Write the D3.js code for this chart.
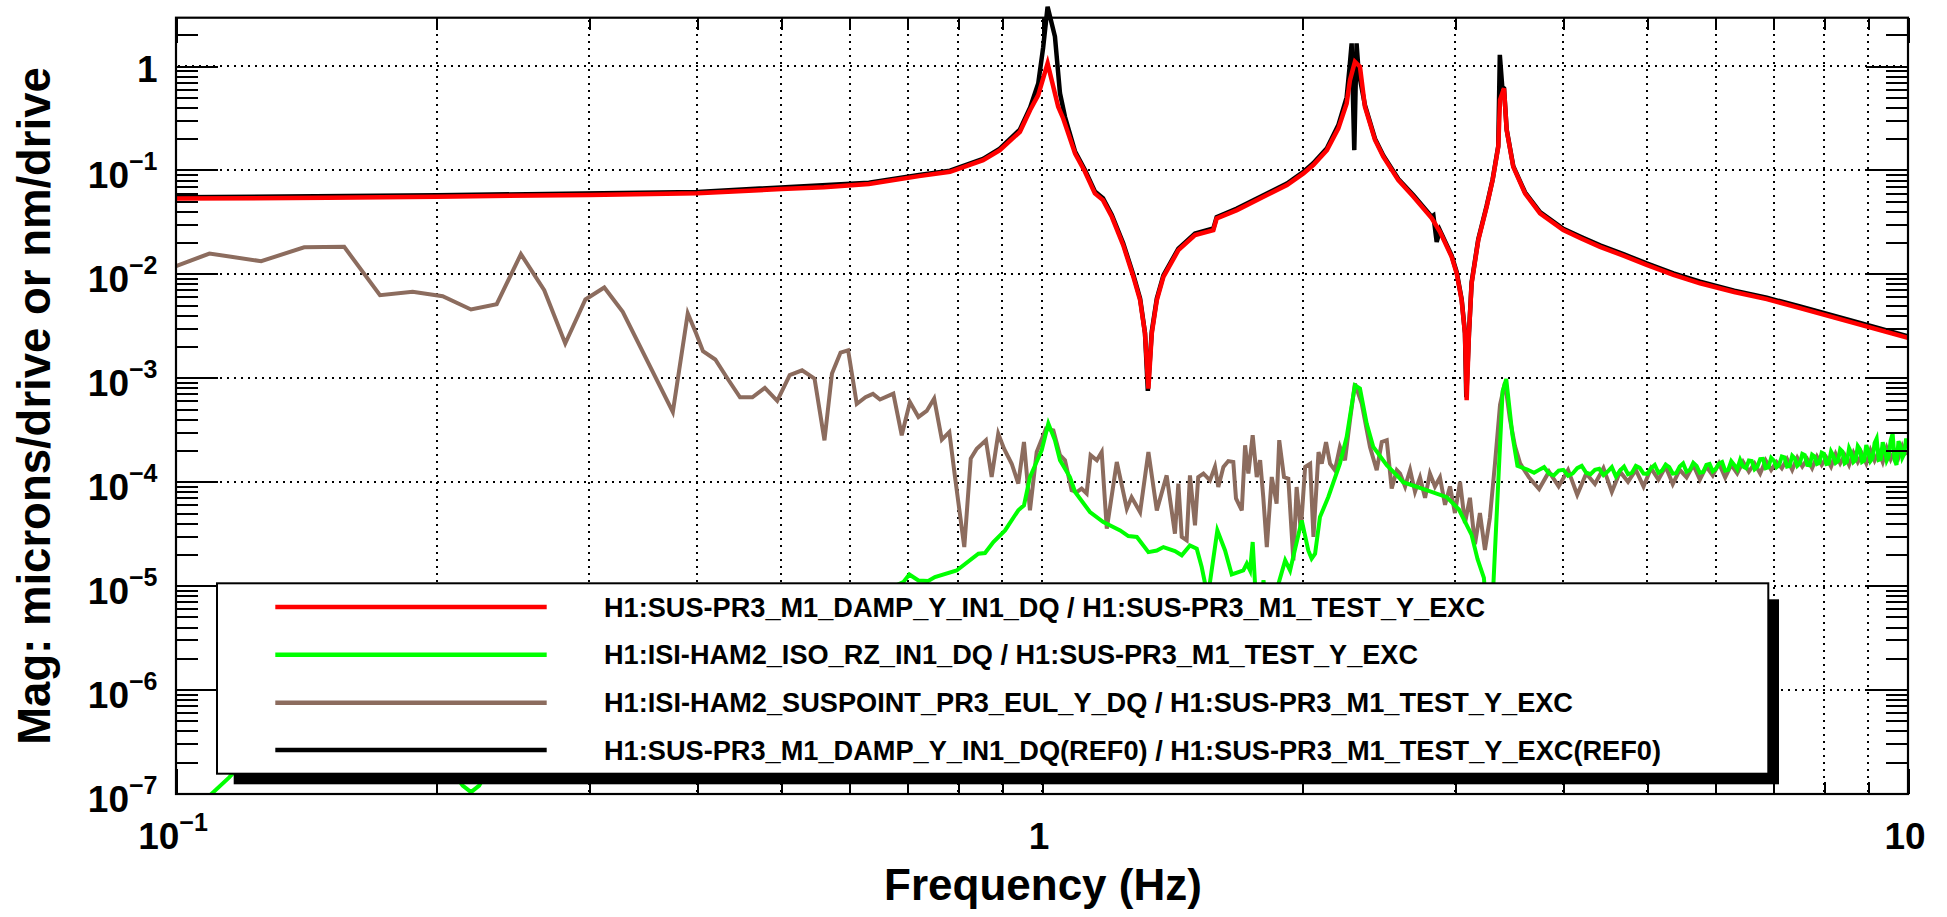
<!DOCTYPE html>
<html><head><meta charset="utf-8">
<script src="https://cdn.jsdelivr.net/npm/d3@7"></script>
<style>
body{margin:0;background:#fff;}
text{font-family:"Liberation Sans",Arial,Helvetica,sans-serif;font-weight:bold;fill:#000;}
</style>
</head><body>
<svg id="c" width="1947" height="917"></svg>
<script>
// ---------------- DATA ----------------
const xTickVals = [0.1, 1, 10];
const xTickLabels = ["10|\u22121", "1", "10"];
const yTickVals = [1e-7, 1e-6, 1e-5, 1e-4, 1e-3, 1e-2, 1e-1, 1];
const yTickLabels = ["10|\u22127","10|\u22126","10|\u22125","10|\u22124","10|\u22123","10|\u22122","10|\u22121","1"];

const seriesNames = [
  "H1:SUS-PR3_M1_DAMP_Y_IN1_DQ / H1:SUS-PR3_M1_TEST_Y_EXC",
  "H1:ISI-HAM2_ISO_RZ_IN1_DQ / H1:SUS-PR3_M1_TEST_Y_EXC",
  "H1:ISI-HAM2_SUSPOINT_PR3_EUL_Y_DQ / H1:SUS-PR3_M1_TEST_Y_EXC",
  "H1:SUS-PR3_M1_DAMP_Y_IN1_DQ(REF0) / H1:SUS-PR3_M1_TEST_Y_EXC(REF0)"
];
const seriesColors = ["#ff0000", "#00ff00", "#8c6c5e", "#000000"];

// [frequency Hz, magnitude]
const dampY = [[0.1,0.0530],[0.15,0.0540],[0.2,0.0553],[0.3,0.0575],[0.4,0.0598],[0.5,0.0655],[0.56,0.068],[0.631,0.0734],
[0.721,0.0872],[0.783,0.0960],[0.855,0.1244],[0.894,0.155],[0.943,0.233],[0.969,0.377],[0.990,0.526],[1.015,1.06],
[1.044,0.406],[1.058,0.313],[1.092,0.144],[1.121,0.0960],[1.151,0.0595],[1.176,0.0513],[1.204,0.0354],[1.241,0.0189],
[1.275,0.00935],[1.298,0.00558],[1.315,0.00267],[1.327,0.000789],[1.339,0.00267],[1.357,0.00558],[1.381,0.00935],[1.437,0.0169],
[1.502,0.0236],[1.577,0.0264],[1.591,0.0341],[1.679,0.0411],[1.802,0.0551],[1.918,0.0715],[2.004,0.0927],[2.057,0.1114],
[2.133,0.155],[2.199,0.251],[2.248,0.437],[2.268,0.733],[2.298,1.10],[2.329,0.985],[2.360,0.406],[2.424,0.194],
[2.478,0.134],[2.579,0.0798],[2.685,0.0551],[2.818,0.0344],[2.881,0.0254],[2.972,0.0146],[3.012,0.0101],[3.052,0.00558],
[3.079,0.00267],[3.093,0.000608],[3.112,0.00267],[3.134,0.00809],[3.190,0.0211],[3.262,0.0442],[3.314,0.0798],[3.364,0.167],
[3.380,0.471],[3.416,0.610],[3.440,0.242],[3.501,0.107],[3.612,0.0595],[3.759,0.0382],[3.999,0.0264],[4.2,0.0218],[4.410,0.0182],
[4.7,0.0149],[4.991,0.0122],[5.36,0.0098],[5.753,0.00812],[6.3,0.0067],[6.869,0.00571],[7.504,0.00468],[8.57,0.00345],[10,0.00242]];

const dampYRef = [[0.1,0.0545],[0.2,0.057],[0.4,0.0615],[0.631,0.0755],[0.721,0.0895],[0.783,0.0985],[0.855,0.128],[0.894,0.160],
[0.943,0.245],[0.969,0.40],[0.990,0.68],[1.003,1.5],[1.015,3.72],[1.035,1.92],[1.049,0.546],[1.063,0.325],[1.092,0.150],
[1.121,0.100],[1.151,0.062],[1.176,0.0535],[1.204,0.0368],[1.241,0.0197],[1.275,0.0098],[1.298,0.0058],[1.315,0.0027],
[1.325,0.00075],[1.339,0.0028],[1.357,0.0058],[1.381,0.0097],[1.437,0.0175],[1.502,0.0245],[1.577,0.0273],[1.591,0.0352],
[1.679,0.0425],[1.802,0.057],[1.918,0.074],[2.004,0.096],[2.057,0.116],[2.133,0.162],[2.199,0.27],[2.248,0.50],[2.265,0.95],
[2.278,1.65],[2.294,0.155],[2.308,1.65],[2.318,1.0],[2.329,0.75],[2.360,0.42],[2.424,0.200],[2.478,0.138],[2.579,0.082],
[2.685,0.057],[2.818,0.0355],[2.831,0.0365],[2.856,0.0203],[2.881,0.0262],[2.972,0.015],[3.012,0.0104],[3.052,0.0057],
[3.079,0.0027],[3.090,0.00065],[3.112,0.0027],[3.134,0.0083],[3.190,0.0216],[3.262,0.0452],[3.314,0.081],[3.364,0.17],
[3.378,1.28],[3.400,0.63],[3.416,0.61],[3.440,0.245],[3.501,0.109],[3.612,0.061],[3.759,0.0393],[3.999,0.0272],[4.2,0.0225],
[4.41,0.0188],[4.7,0.0154],[4.991,0.0126],[5.36,0.0101],[5.753,0.0084],[6.3,0.0069],[6.869,0.0059],[7.504,0.00485],
[8.57,0.00358],[10,0.00250]];

const isoRZ = [[0.105,5e-8],[0.1093,9.5e-8],[0.1152,1.43e-7],[0.125,3e-7],[0.14,6e-7],[0.156,9e-7],[0.172,7e-7],[0.19,4e-7],
[0.203,2.2e-7],[0.2143,1.19e-7],[0.2191,1.03e-7],[0.2239,1.19e-7],[0.235,2.5e-7],[0.25,4e-7],[0.28,7e-7],[0.31,1.1e-6],
[0.34,1.5e-6],[0.375,2e-6],[0.41,2.6e-6],[0.45,3.3e-6],[0.5,4.2e-6],[0.55,5.5e-6],[0.6,6.8e-6],[0.65,8.5e-6],
[0.6915,1.08e-5],[0.7027,1.28e-5],[0.72,1.12e-5],[0.7389,1.11e-5],[0.7522,1.21e-5],[0.797,1.40e-5],[0.8444,2.03e-5],
[0.8594,2.06e-5],[0.8787,2.63e-5],[0.9064,3.40e-5],[0.9389,5.31e-5],[0.9532,5.93e-5],[0.9685,1.11e-4],[0.9993,2.01e-4],
[1.017,3.63e-4],[1.035,2.50e-4],[1.049,1.61e-4],[1.077,1.11e-4],[1.092,7.96e-5],[1.136,5.11e-5],[1.177,4.09e-5],
[1.231,3.40e-5],[1.258,3.00e-5],[1.287,2.94e-5],[1.327,2.10e-5],[1.357,2.18e-5],[1.381,2.35e-5],[1.424,2.15e-5],
[1.45,1.96e-5],[1.482,2.44e-5],[1.509,2.27e-5],[1.529,1.51e-5],[1.543,1.04e-5],[1.553,4e-6],[1.563,1.08e-5],[1.594,3.40e-5],
[1.627,2.18e-5],[1.656,1.28e-5],[1.686,1.35e-5],[1.708,1.40e-5],[1.724,1.63e-5],[1.739,1.40e-5],[1.751,2.63e-5],
[1.762,1.04e-5],[1.78,3e-6],[1.802,1.13e-5],[1.834,3e-6],[1.875,1.04e-5],[1.909,1.75e-5],[1.934,1.40e-5],[1.995,4.25e-5],
[2.030,2.18e-5],[2.048,1.82e-5],[2.067,2.03e-5],[2.094,4.57e-5],[2.141,7.13e-5],[2.208,1.49e-4],[2.248,2.69e-4],
[2.298,8.47e-4],[2.329,7.88e-4],[2.371,3.63e-4],[2.413,2.16e-4],[2.501,1.44e-4],[2.591,1.07e-4],[2.612,9.9e-5],
[2.791,8.2e-5],[2.933,7.1e-5],[3.030,5.4e-5],[3.133,3.1e-5],[3.184,1.8e-5],[3.238,1.19e-5],[3.29,2e-6],[3.347,4.1e-5],
[3.403,7.4e-4],[3.436,9.75e-4],[3.493,2.82e-4],[3.540,1.42e-4],[3.634,1.31e-4],
[3.7,1.22e-4],[3.75,1.30e-4],[3.8,1.38e-4],[3.85,1.20e-4],[3.9,1.15e-4],[3.95,1.28e-4],[4.0,1.30e-4],[4.05,1.14e-4],
[4.1,1.20e-4],[4.15,1.35e-4],[4.2,1.42e-4],[4.25,1.22e-4],[4.3,1.18e-4],[4.35,1.30e-4],[4.4,1.33e-4],[4.45,1.16e-4],
[4.5,1.25e-4],[4.55,1.38e-4],[4.6,1.12e-4],[4.65,1.28e-4],[4.7,1.40e-4],[4.75,1.18e-4],[4.8,1.22e-4],[4.85,1.42e-4],
[4.9,1.36e-4],[4.95,1.20e-4],[5.0,1.19e-4],[5.05,1.35e-4],[5.1,1.45e-4],[5.15,1.22e-4],[5.2,1.28e-4],[5.25,1.46e-4],
[5.3,1.38e-4],[5.35,1.20e-4],[5.4,1.21e-4],[5.45,1.40e-4],[5.5,1.50e-4],[5.55,1.25e-4],[5.6,1.30e-4],[5.65,1.52e-4],
[5.7,1.42e-4],[5.75,1.22e-4],[5.8,1.24e-4],[5.85,1.45e-4],[5.9,1.48e-4],[5.95,1.26e-4],[6.0,1.33e-4],[6.05,1.50e-4],
[6.1,1.55e-4],[6.15,1.28e-4],[6.2,1.30e-4],[6.25,1.58e-4],[6.3,1.45e-4],[6.35,1.32e-4],[6.4,1.62e-4],[6.45,1.40e-4],
[6.5,1.35e-4],[6.55,1.60e-4],[6.6,1.58e-4],[6.65,1.32e-4],[6.7,1.40e-4],[6.75,1.65e-4],[6.8,1.66e-4],[6.85,1.35e-4],
[6.9,1.38e-4],[6.95,1.70e-4],[7.0,1.60e-4],[7.05,1.38e-4],[7.1,1.45e-4],[7.15,1.75e-4],[7.2,1.72e-4],[7.25,1.40e-4],
[7.3,1.42e-4],[7.35,1.78e-4],[7.4,1.68e-4],[7.45,1.42e-4],[7.5,1.50e-4],[7.55,1.85e-4],[7.6,1.80e-4],[7.65,1.45e-4],
[7.7,1.44e-4],[7.75,1.82e-4],[7.8,1.75e-4],[7.85,1.48e-4],[7.9,1.52e-4],[7.95,1.90e-4],[8.0,1.85e-4],[8.05,1.48e-4],
[8.1,1.50e-4],[8.15,1.95e-4],[8.2,1.78e-4],[8.25,1.52e-4],[8.3,1.58e-4],[8.35,2.05e-4],[8.4,1.95e-4],[8.45,1.50e-4],
[8.5,1.55e-4],[8.55,2.10e-4],[8.6,1.88e-4],[8.65,1.55e-4],[8.7,1.62e-4],[8.75,2.20e-4],[8.8,2.05e-4],[8.85,1.55e-4],
[8.9,1.60e-4],[8.95,2.25e-4],[9.0,1.95e-4],[9.05,1.58e-4],[9.1,1.68e-4],[9.15,2.35e-4],[9.2,2.6e-4],[9.25,1.62e-4],
[9.3,1.65e-4],[9.35,2.40e-4],[9.4,2.05e-4],[9.45,1.60e-4],[9.5,1.75e-4],[9.55,2.50e-4],[9.6,2.9e-4],[9.65,1.62e-4],
[9.7,1.45e-4],[9.75,2.45e-4],[9.8,2.20e-4],[9.85,1.70e-4],[9.9,1.85e-4],[9.95,2.60e-4],[10.0,2.10e-4]];

const suspointY = [[0.1,0.0119],[0.1093,0.0157],[0.1254,0.01325],[0.1406,0.0180],[0.1564,0.0182],[0.172,0.00624],
[0.1876,0.00671],[0.2032,0.0061],[0.2191,0.00454],[0.2346,0.00511],[0.2502,0.0155],[0.2662,0.00697],[0.2815,0.00214],
[0.297,0.00567],[0.3123,0.0074],[0.328,0.00431],[0.3747,0.000469],[0.3899,0.00416],[0.3987,0.00267],
[0.406,0.0018],[0.4195,0.0015],[0.4335,0.00098],[0.448,0.00065],[0.463,0.00065],[0.4786,0.0008],[0.4946,0.0006],
[0.5113,0.00106],[0.5284,0.00118],[0.5462,0.00098],[0.5608,0.00025],[0.5721,0.0011],[0.5853,0.00175],[0.5972,0.00184],
[0.6111,0.00056],[0.6254,0.00065],[0.6379,0.0007],
[0.650,6.18e-4],[0.6735,7.05e-4],[0.6887,2.80e-4],[0.7039,5.85e-4],[0.72,4.20e-4],[0.736,4.80e-4],[0.7507,6.31e-4],
[0.7662,2.54e-4],[0.7816,3.01e-4],[0.7935,1.11e-4],[0.8133,2.35e-5],[0.8274,1.67e-4],[0.8407,2.08e-4],[0.8615,2.51e-4],
[0.8747,1.11e-4],[0.8902,2.90e-4],[0.904,2.08e-4],[0.9226,1.49e-4],[0.9389,9.6e-5],[0.9532,2.41e-4],[0.9685,5.3e-5],
[0.986,1.93e-4],[1.0107,3.24e-4],[1.0306,3.12e-4],[1.049,1.80e-4],[1.063,1.61e-4],[1.082,8.3e-5],[1.097,7.96e-5],
[1.111,8.6e-5],[1.126,7.7e-5],[1.138,1.80e-4],[1.157,1.61e-4],[1.172,1.93e-4],[1.188,3.53e-5],[1.22,1.55e-4],
[1.253,5.5e-5],[1.269,7.1e-5],[1.298,5.1e-5],[1.327,1.93e-4],[1.357,5.3e-5],[1.393,1.15e-4],[1.424,3.16e-5],
[1.437,9.6e-5],[1.45,2.94e-5],[1.469,2.73e-5],[1.482,1.15e-4],[1.502,3.8e-5],[1.515,1.11e-4],[1.536,1.20e-4],
[1.563,1.03e-4],[1.584,1.39e-4],[1.598,8.9e-5],[1.62,1.39e-4],[1.641,1.58e-4],[1.663,1.55e-4],[1.675,6.9e-5],
[1.701,5.3e-5],[1.716,2.24e-4],[1.731,1.20e-4],[1.751,2.80e-4],[1.77,1.11e-4],[1.786,1.61e-4],[1.801,7.1e-5],
[1.818,2.35e-5],[1.842,1.11e-4],[1.866,6.15e-5],[1.879,2.51e-4],[1.903,1.11e-4],[1.925,1.07e-4],[1.951,1.75e-5],
[1.968,8.9e-5],[1.99,3.4e-5],[2.013,1.39e-4],[2.04,1.49e-4],[2.058,2.94e-5],[2.086,1.93e-4],[2.104,1.49e-4],
[2.128,2.41e-4],[2.151,1.49e-4],[2.179,1.29e-4],[2.208,2.16e-4],[2.238,1.61e-4],[2.268,3.9e-4],[2.298,8.8e-4],
[2.34,5.65e-4],[2.392,2.16e-4],[2.435,1.29e-4],[2.468,2.41e-4],[2.501,2.51e-4],[2.534,8.6e-5],[2.569,1.29e-4],
[2.591,1.2e-4],[2.626,0.9e-4],[2.661,1.3e-4],[2.696,0.8e-4],[2.732,1.1e-4],[2.769,0.7e-4],[2.805,1.2e-4],[2.843,0.9e-4],
[2.881,1.1e-4],[2.92,0.6e-4],[2.959,0.9e-4],[2.998,0.5e-4],[3.039,1.0e-4],[3.079,0.4e-4],[3.12,0.7e-4],[3.162,0.25e-4],
[3.204,0.5e-4],[3.247,0.22e-4],[3.29,0.45e-4],[3.335,1.5e-4],[3.38,5.5e-4],[3.425,9.0e-4],[3.47,4.0e-4],[3.517,2.2e-4],
[3.565,1.5e-4],
[3.65,1.1e-4],[3.75,0.85e-4],[3.85,1.25e-4],[3.95,0.9e-4],[4.05,1.3e-4],[4.15,0.75e-4],[4.25,1.2e-4],[4.35,0.95e-4],
[4.45,1.35e-4],[4.55,0.8e-4],[4.65,1.25e-4],[4.75,1.0e-4],[4.85,1.3e-4],[4.95,0.9e-4],[5.05,1.35e-4],[5.15,1.05e-4],
[5.25,1.4e-4],[5.35,0.95e-4],[5.45,1.3e-4],[5.55,1.1e-4],[5.65,1.45e-4],[5.75,1.05e-4],[5.85,1.4e-4],[5.95,1.15e-4],
[6.05,1.5e-4],[6.15,1.1e-4],[6.25,1.45e-4],[6.35,1.2e-4],[6.45,1.55e-4],[6.55,1.25e-4],[6.65,1.5e-4],[6.75,1.2e-4],
[6.85,1.6e-4],[6.95,1.3e-4],[7.05,1.55e-4],[7.15,1.35e-4],[7.25,1.65e-4],[7.35,1.3e-4],[7.45,1.7e-4],[7.55,1.4e-4],
[7.65,1.65e-4],[7.75,1.35e-4],[7.85,1.75e-4],[7.95,1.45e-4],[8.05,1.7e-4],[8.15,1.4e-4],[8.25,1.85e-4],[8.35,1.5e-4],
[8.45,1.8e-4],[8.55,1.45e-4],[8.65,1.9e-4],[8.75,1.55e-4],[8.85,1.85e-4],[8.95,1.5e-4],[9.05,2.0e-4],[9.15,1.6e-4],
[9.25,1.95e-4],[9.35,1.55e-4],[9.45,2.1e-4],[9.55,1.65e-4],[9.65,2.0e-4],[9.75,1.7e-4],[9.85,2.2e-4],[9.95,1.8e-4]];

const xTitle = "Frequency (Hz)";
const yTitle = "Mag: microns/drive or nm/drive";

// ---------------- LAYOUT ----------------
const L = 176, R = 1908, T = 17.7, B = 794;
const svg = d3.select("#c");
const x = d3.scaleLog().domain([0.1, 10]).range([L, R]);
const y = d3.scaleLog().domain([1e-7, Math.pow(10, 0.465)]).range([793.5, T]);

const isDecade = v => Math.abs(Math.log10(v) - Math.round(Math.log10(v))) < 1e-6;
const xAll = x.ticks();
const xMinor = xAll.filter(v => !isDecade(v));
const yAll = y.ticks();
const yMinor = yAll.filter(v => !isDecade(v));

// grid
const grid = svg.append("g").attr("stroke", "#000").attr("stroke-width", 2)
  .attr("stroke-dasharray", "2,5").attr("shape-rendering", "crispEdges");
xAll.filter(v => v > 0.1001 && v < 9.999).forEach(v => {
  grid.append("line").attr("x1", Math.round(x(v))).attr("x2", Math.round(x(v))).attr("y1", T + 2).attr("y2", B);
});
yTickVals.forEach(v => {
  grid.append("line").attr("x1", L + 2).attr("x2", R).attr("y1", Math.round(y(v))).attr("y2", Math.round(y(v)));
});

// clip
svg.append("defs").append("clipPath").attr("id", "clip")
  .append("rect").attr("x", L).attr("y", 0).attr("width", R - L).attr("height", B);

const line = d3.line().x(d => x(d[0])).y(d => y(d[1]));
const plot = svg.append("g").attr("clip-path", "url(#clip)");
const drawOrder = [[dampYRef, 3, 4.5], [suspointY, 2, 4], [isoRZ, 1, 4], [dampY, 0, 4.5]];
drawOrder.forEach(([data, ci, w]) => {
  plot.append("path").datum(data).attr("d", line).attr("fill", "none")
    .attr("stroke", seriesColors[ci]).attr("stroke-width", w).attr("stroke-linejoin", "miter");
});

// frame
svg.append("rect").attr("x", L).attr("y", T).attr("width", R - L).attr("height", B - T)
  .attr("fill", "none").attr("stroke", "#000").attr("stroke-width", 2.2);

// ticks with axes
function tickAxis(gen, tr, vals, size) {
  const g = svg.append("g").attr("transform", tr)
    .call(gen.tickValues(vals).tickSize(size).tickFormat(""));
  g.select(".domain").remove();
  g.selectAll("line").attr("stroke", "#000").attr("stroke-width", 2).attr("shape-rendering", "crispEdges");
}
tickAxis(d3.axisTop(x), `translate(0,${B})`, xMinor, 12);
tickAxis(d3.axisTop(x), `translate(0,${B})`, xTickVals, 25);
tickAxis(d3.axisBottom(x), `translate(0,${T})`, xMinor, 12);
tickAxis(d3.axisBottom(x), `translate(0,${T})`, xTickVals, 25);
tickAxis(d3.axisRight(y), `translate(${L},0)`, yMinor, 22);
tickAxis(d3.axisRight(y), `translate(${L},0)`, yTickVals, 42);
tickAxis(d3.axisLeft(y), `translate(${R},0)`, yMinor, 22);
tickAxis(d3.axisLeft(y), `translate(${R},0)`, yTickVals, 42);

// tick labels
function label(g, txt, px, py, anchor) {
  const parts = txt.split("|");
  const t = g.append("text").attr("x", px).attr("y", py).attr("text-anchor", anchor).attr("font-size", 37);
  t.append("tspan").text(parts[0]);
  if (parts[1]) t.append("tspan").attr("font-size", 25).attr("dy", -18).text(parts[1]);
}
const lab = svg.append("g");
xTickVals.forEach((v, i) => label(lab, xTickLabels[i], x(v) - 3, 849, "middle"));
yTickVals.forEach((v, i) => label(lab, yTickLabels[i], 157.5, y(v) + (yTickLabels[i].includes("|") ? 18 : 15.5), "end"));

// axis titles
svg.append("text").attr("x", 1043).attr("y", 900).attr("text-anchor", "middle").attr("font-size", 44).text(xTitle);
svg.append("text").attr("transform", "translate(50,406) rotate(-90)").attr("text-anchor", "middle")
  .attr("font-size", 45.5).text(yTitle);

// legend
const lg = svg.append("g");
lg.append("rect").attr("x", 233.7).attr("y", 599.3).attr("width", 1779 - 233.7).attr("height", 784.3 - 599.3).attr("fill", "#000");
lg.append("rect").attr("x", 217).attr("y", 583.3).attr("width", 1768.3 - 217).attr("height", 773.7 - 583.3)
  .attr("fill", "#fff").attr("stroke", "#000").attr("stroke-width", 2);
const rowY = [607, 654.7, 702.7, 750];
const rowW = [881, 814, 969, 1057];
seriesNames.forEach((n, i) => {
  lg.append("line").attr("x1", 275.3).attr("x2", 546.7).attr("y1", rowY[i]).attr("y2", rowY[i])
    .attr("stroke", seriesColors[i]).attr("stroke-width", 4.5);
  lg.append("text").attr("x", 604).attr("y", rowY[i] + 9.6).attr("font-size", 27)
    .attr("textLength", rowW[i]).attr("lengthAdjust", "spacingAndGlyphs").text(n);
});
</script>
</body></html>
